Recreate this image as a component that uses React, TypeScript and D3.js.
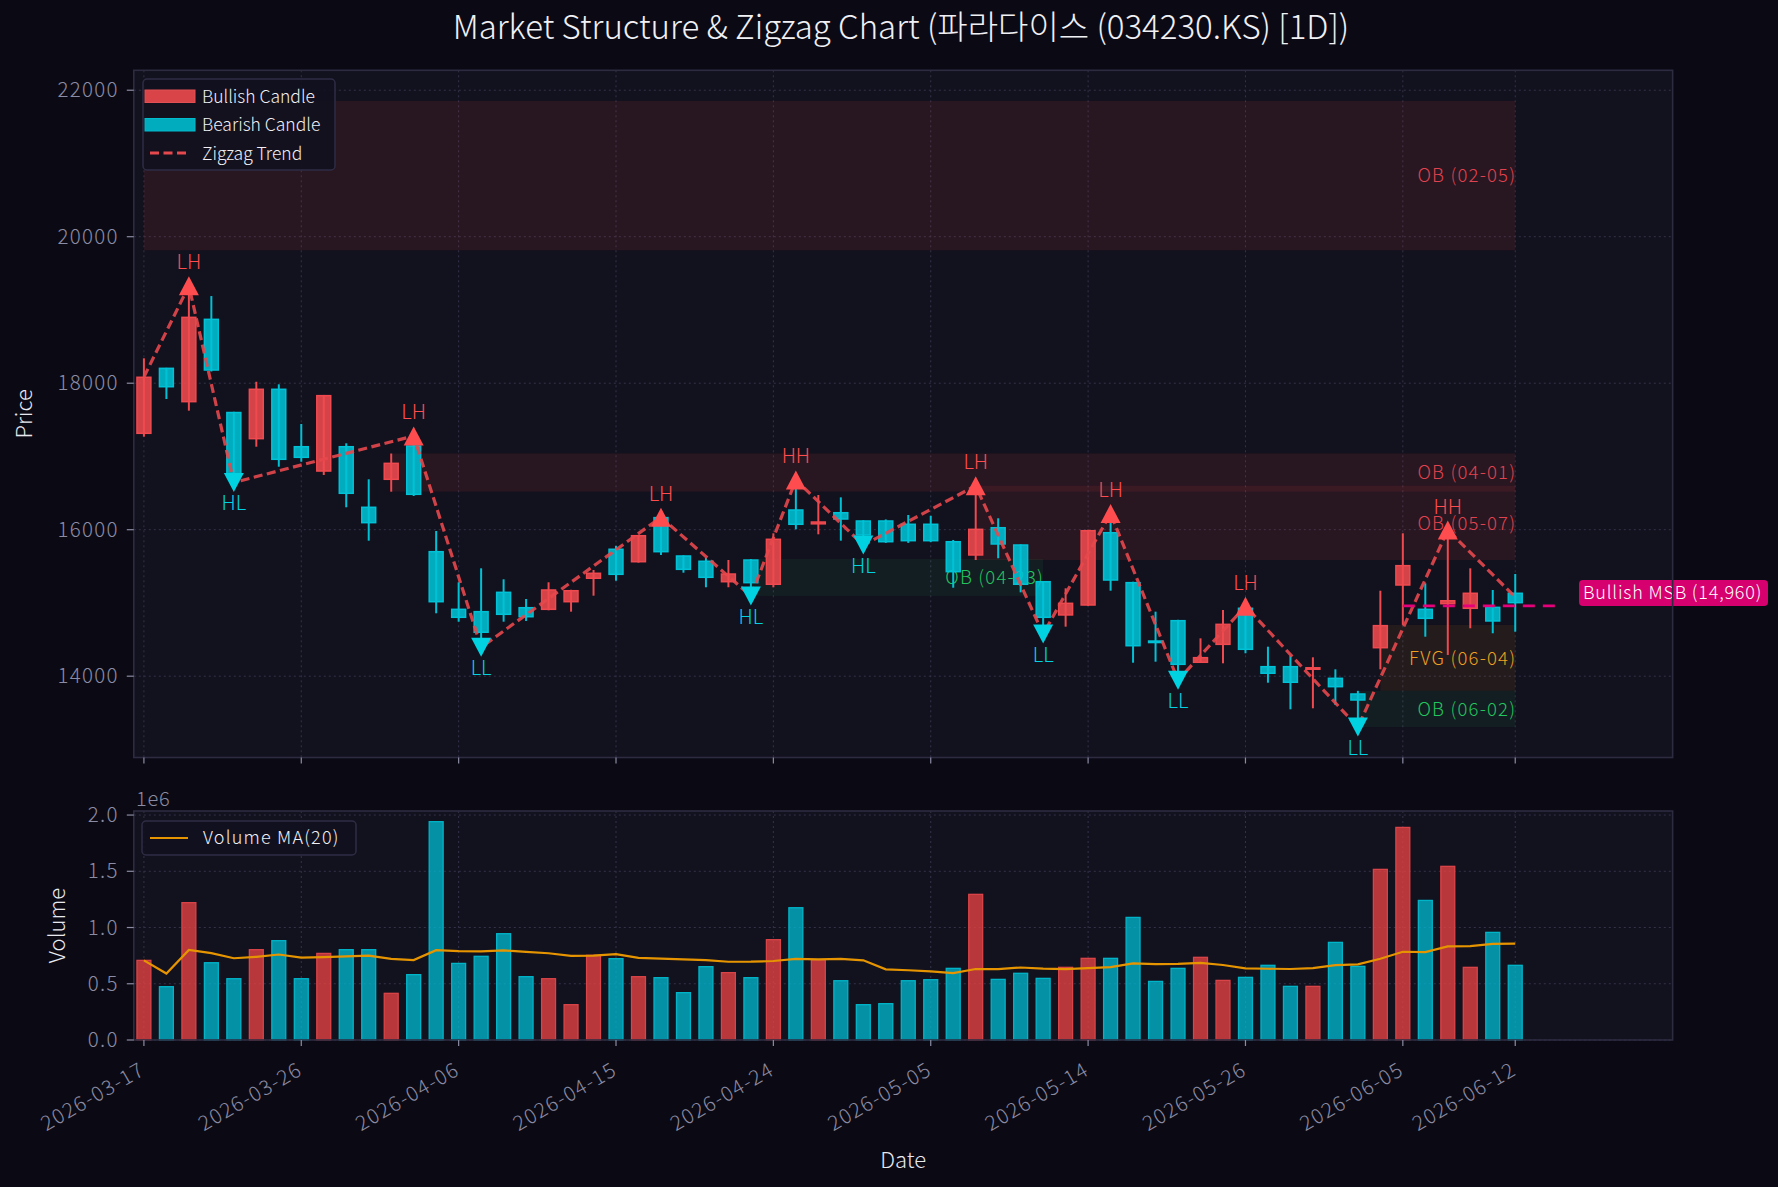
import React from 'react';
import * as d3 from 'd3';

const dates = ['2026-03-17','2026-03-18','2026-03-19','2026-03-20','2026-03-23','2026-03-24','2026-03-25','2026-03-26','2026-03-27','2026-03-30','2026-03-31','2026-04-01','2026-04-02','2026-04-03','2026-04-06','2026-04-07','2026-04-08','2026-04-09','2026-04-10','2026-04-13','2026-04-14','2026-04-15','2026-04-16','2026-04-17','2026-04-20','2026-04-21','2026-04-22','2026-04-23','2026-04-24','2026-04-27','2026-04-28','2026-04-29','2026-04-30','2026-05-01','2026-05-04','2026-05-05','2026-05-06','2026-05-07','2026-05-08','2026-05-11','2026-05-12','2026-05-13','2026-05-14','2026-05-15','2026-05-18','2026-05-19','2026-05-20','2026-05-21','2026-05-22','2026-05-26','2026-05-27','2026-05-28','2026-05-29','2026-06-01','2026-06-02','2026-06-04','2026-06-05','2026-06-08','2026-06-09','2026-06-10','2026-06-11','2026-06-12'];
const opens = [17316,18203,17748,18872,17600,17243,17917,17133,16801,17133,16306,16688,17143,15700,14913,14881,15145,14935,14913,15017,15337,15733,15563,16165,15641,15569,15290,15586,15255,16269,16080,16232,16119,16119,16074,16074,15836,15655,16027,15791,15290,14836,14972,15959,15277,14480,14758,14190,14435,14927,14130,14130,14100,13971,13757,14389,15245,14913,14990,14927,14940,15132];
const highs = [18340,18210,19330,19190,17610,18020,17985,17443,17840,17180,16688,17040,17280,15982,15282,15473,15323,15054,15282,15180,15450,15780,15930,16175,15650,15620,15586,15600,15951,16680,16474,16442,16130,16140,16201,16190,15860,16600,16156,15800,15300,15200,16000,16220,15290,14881,14770,14517,14904,14955,14403,14280,14258,14094,13800,15167,15951,15268,15995,15473,15177,15395];
const lows = [17270,17784,17625,18160,16645,17133,16860,16928,16747,16306,15850,16519,16460,14859,14744,14395,14744,14754,14900,14881,15099,15304,15550,15655,15413,15214,15214,15095,15214,16005,15937,15850,15790,15820,15820,15830,15208,15586,15610,15145,14575,14676,14960,15167,14184,14198,13945,14180,14176,14313,13911,13548,13562,13607,13305,14094,14700,14539,14290,14654,14586,14608];
const closes = [18081,17952,18899,18180,16760,17917,16961,16988,17830,16497,16096,16906,16483,15017,14804,14600,14845,14812,15177,15167,15405,15391,15918,15700,15459,15350,15395,15277,15869,16074,16105,16146,15928,15836,15850,15850,15427,16005,15805,15255,14804,14995,15986,15313,14416,14465,14162,14253,14708,14367,14040,13917,14115,13857,13675,14690,15509,14790,15030,15132,14754,15004];
const volumes = [708000,474000,1221000,687000,545000,803000,883000,545000,770000,803000,803000,415000,581000,1941000,681000,744000,945000,563000,545000,314000,753000,723000,563000,554000,421000,652000,599000,554000,892000,1176000,714000,527000,314000,323000,527000,536000,637000,1295000,539000,593000,548000,646000,726000,726000,1090000,521000,637000,735000,530000,557000,664000,477000,477000,868000,655000,1517000,1890000,1241000,1544000,646000,957000,664000];

const zigIdx = [0,2,4,12,15,23,27,29,32,37,40,43,46,49,54,58,61];
const zigPrice = [18085,19330,16645,17280,14395,16170,15095,16680,15790,16600,14575,16220,13945,14955,13305,15995,15080];
const zigLabels = ['','LH','HL','LH','LL','LH','HL','HH','HL','LH','LL','LH','LL','LH','LL','HH',''];

const zoneNames = ['OB (02-05)','OB (04-01)','OB (05-07)','OB (04-23)','FVG (06-04)','OB (06-02)'];
const zoneKinds = ['bear','bear','bear','bull','fvg','bull'];
const zoneStart = [0,11,37,27,55,54];
const zoneEnd = [61,61,61,40,61,61];
const zoneTop = [21855,17040,16600,15600,14700,13800];
const zoneBottom = [19815,16519,15586,15095,13800,13305];

const msbPrice = 14960;
const msbStart = 56;
const msbEnd = 62.8;
const msbLabel = 'Bullish MSB (14,960)';

const xTickIdx = [0,7,14,21,28,35,42,49,56,61];
const priceTicks = [14000,16000,18000,20000,22000];
const volTicks = [0,500000,1000000,1500000,2000000];

const FONT = "'Noto Sans CJK KR','Noto Sans',sans-serif";
const BG = '#0b0a14';
const AX = '#12111e';
const SPINE = '#2c2b40';
const GRID = '#34334a';
const TICKC = '#8b8ba3';
const RED = '#ef4a4f';
const CYAN = '#00c2d6';

export default function App() {
  const W = 1778, H = 1187;
  const L = 133.8, R = 1672.6;
  const mT = 70.3, mB = 757.5;
  const vT = 811, vB = 1040;

  const x = d3.scaleLinear().domain([-0.45, 68]).range([L, R]);
  const y = d3.scaleLinear().domain([12890, 22272]).range([mB, mT]);
  const yv = d3.scaleLinear().domain([0, 2036000]).range([vB, vT]);
  const half = x(0.31) - x(0);

  const volMA = volumes.map((_, i) => d3.mean(volumes.slice(Math.max(0, i - 19), i + 1)) as number);
  const maLine = d3.line<number>().x((_, i) => x(i)).y(d => yv(d));
  const zigLine = d3.line<number>().x((_, i) => x(zigIdx[i])).y(d => y(d));

  const zoneFill: Record<string, string> = { bear: '#ef4444', bull: '#22c55e', fvg: '#f59e0b' };
  const zoneText: Record<string, string> = { bear: '#e0434f', bull: '#22c55e', fvg: '#f0a020' };
  const zoneOp: Record<string, number> = { bear: 0.1, bull: 0.08, fvg: 0.08 };

  const tri = (up: boolean) => up ? 'M0,-9.5L10,9.5L-10,9.5Z' : 'M0,9.5L10,-9.5L-10,-9.5Z';

  return (
    <svg width={W} height={H} style={{ position: 'absolute', left: 0, top: 0, background: BG }} fontFamily={FONT} fontWeight={300}>
      <rect x={0} y={0} width={W} height={H} fill={BG} />
      <text x={901} y={39} textAnchor="middle" fill="#f0f0f5" fontSize={33}>Market Structure &amp; Zigzag Chart (파라다이스 (034230.KS) [1D])</text>

      {/* main axes */}
      <rect x={L} y={mT} width={R - L} height={mB - mT} fill={AX} />
      {priceTicks.map(p => (
        <line key={'gp' + p} x1={L} x2={R} y1={y(p)} y2={y(p)} stroke={GRID} strokeDasharray="2,3" />
      ))}
      {xTickIdx.map(i => (
        <line key={'gx' + i} x1={x(i)} x2={x(i)} y1={mT} y2={mB} stroke={GRID} strokeDasharray="2,3" />
      ))}

      {zoneNames.map((n, k) => (
        <g key={'z' + k}>
          <rect x={x(zoneStart[k])} y={y(zoneTop[k])} width={x(zoneEnd[k]) - x(zoneStart[k])}
            height={y(zoneBottom[k]) - y(zoneTop[k])} fill={zoneFill[zoneKinds[k]]} fillOpacity={zoneOp[zoneKinds[k]]} />
          <text x={x(zoneEnd[k]) + 1} y={(y(zoneTop[k]) + y(zoneBottom[k])) / 2} dy="0.36em" textAnchor="end"
            fill={zoneText[zoneKinds[k]]} fontSize={18.5} letterSpacing={1.2}>{n}</text>
        </g>
      ))}

      {dates.map((d, i) => {
        const up = closes[i] >= opens[i];
        const c = up ? RED : CYAN;
        const top = y(Math.max(opens[i], closes[i]));
        const bot = y(Math.min(opens[i], closes[i]));
        return (
          <g key={'c' + i}>
            <line x1={x(i)} x2={x(i)} y1={y(highs[i])} y2={y(lows[i])} stroke={c} strokeWidth={2} />
            <rect x={x(i) - half} y={top} width={half * 2} height={Math.max(bot - top, 1.5)}
              fill={c} fillOpacity={0.88} stroke={c} strokeWidth={1.5} />
          </g>
        );
      })}

      <path d={zigLine(zigPrice) || ''} fill="none" stroke="#e5484d" strokeOpacity={0.9} strokeWidth={3.2} strokeDasharray="9,4.5" />

      {zigIdx.map((ix, k) => {
        const lab = zigLabels[k];
        if (!lab) return null;
        const isHigh = lab[1] === 'H';
        const c = isHigh ? '#ff4d4f' : '#00d2e2';
        const cy = y(zigPrice[k]);
        return (
          <g key={'m' + k}>
            <path d={tri(isHigh)} transform={`translate(${x(ix)},${cy})`} fill={c} />
            <text x={x(ix)} y={isHigh ? cy - 16.5 : cy + 28} textAnchor="middle" fill={c} fontSize={20}>{lab}</text>
          </g>
        );
      })}

      <line x1={x(msbStart)} x2={x(msbEnd)} y1={y(msbPrice)} y2={y(msbPrice)} stroke="#e6007a" strokeWidth={2.6} strokeDasharray="12,8" />
      <rect x={1579} y={y(msbPrice) - 26} width={189} height={26} rx={4} fill="#d6006e" />
      <text x={1583} y={y(msbPrice) - 7} fill="#ffffff" fontSize={18} letterSpacing={0.8}>{msbLabel}</text>

      <rect x={L} y={mT} width={R - L} height={mB - mT} fill="none" stroke={SPINE} strokeWidth={1.6} />
      {priceTicks.map(p => (
        <g key={'tp' + p}>
          <line x1={L - 7} x2={L} y1={y(p)} y2={y(p)} stroke={TICKC} strokeWidth={1.2} />
          <text x={L - 15} y={y(p)} dy="0.35em" textAnchor="end" fill={TICKC} fontSize={20.5} letterSpacing={1.3}>{p}</text>
        </g>
      ))}
      {xTickIdx.map(i => (
        <line key={'tx' + i} x1={x(i)} x2={x(i)} y1={mB} y2={mB + 6} stroke={TICKC} strokeWidth={1.2} />
      ))}
      <text transform={`translate(32,${(mT + mB) / 2}) rotate(-90)`} textAnchor="middle" fill="#e8e8f0" fontSize={22}>Price</text>

      {/* legend */}
      <rect x={143} y={79} width={192} height={91} rx={4} fill={AX} fillOpacity={0.9} stroke="#2e2d45" strokeWidth={1.5} />
      <rect x={145} y={90} width={50} height={12.5} fill="#d94448" stroke="#e25055" />
      <text x={202} y={96.3} dy="0.36em" fill="#f0f0f5" fontSize={17.5}>Bullish Candle</text>
      <rect x={145} y={118.5} width={50} height={12.5} fill="#00acbd" stroke="#00bccd" />
      <text x={202} y={125} dy="0.36em" fill="#f0f0f5" fontSize={17.5}>Bearish Candle</text>
      <line x1={150} x2={190} y1={153} y2={153} stroke="#e5484d" strokeWidth={3} strokeDasharray="9,4.5" />
      <text x={202} y={153.3} dy="0.36em" fill="#f0f0f5" fontSize={17.5}>Zigzag Trend</text>

      {/* volume axes */}
      <rect x={L} y={vT} width={R - L} height={vB - vT} fill={AX} />
      {volTicks.map(v => (
        <line key={'gv' + v} x1={L} x2={R} y1={yv(v)} y2={yv(v)} stroke={GRID} strokeDasharray="2,3" />
      ))}
      {xTickIdx.map(i => (
        <line key={'gvx' + i} x1={x(i)} x2={x(i)} y1={vT} y2={vB} stroke={GRID} strokeDasharray="2,3" />
      ))}
      {volumes.map((v, i) => {
        const up = closes[i] >= opens[i];
        return (
          <rect key={'v' + i} x={x(i) - half} y={yv(v)} width={half * 2} height={yv(0) - yv(v)}
            fill={up ? '#ef4444' : '#00bcd4'} fillOpacity={0.75} stroke={up ? '#d94448' : '#00b4c8'} strokeWidth={1.3} />
        );
      })}
      <path d={maLine(volMA) || ''} fill="none" stroke="#e69500" strokeWidth={2.2} />
      <rect x={L} y={vT} width={R - L} height={vB - vT} fill="none" stroke={SPINE} strokeWidth={1.6} />
      {volTicks.map(v => (
        <g key={'tv' + v}>
          <line x1={L - 7} x2={L} y1={yv(v)} y2={yv(v)} stroke={TICKC} strokeWidth={1.2} />
          <text x={L - 15} y={yv(v)} dy="0.35em" textAnchor="end" fill={TICKC} fontSize={20.5} letterSpacing={1.3}>{(v / 1e6).toFixed(1)}</text>
        </g>
      ))}
      <text x={136} y={806} fill={TICKC} fontSize={20} letterSpacing={0.8}>1e6</text>
      {xTickIdx.map(i => (
        <g key={'tvx' + i}>
          <line x1={x(i)} x2={x(i)} y1={vB} y2={vB + 6} stroke={TICKC} strokeWidth={1.2} />
          <text transform={`translate(${x(i) - 5},${vB + 21}) rotate(-30)`} textAnchor="end" dy="0.72em" fill={TICKC} fontSize={20.5} letterSpacing={1.4}>{dates[i]}</text>
        </g>
      ))}
      <text transform={`translate(65,${(vT + vB) / 2}) rotate(-90)`} textAnchor="middle" fill="#e8e8f0" fontSize={22}>Volume</text>
      <text x={(L + R) / 2} y={1168} textAnchor="middle" fill="#e8e8f0" fontSize={22}>Date</text>

      <rect x={142} y={821} width={214} height={34} rx={4} fill={AX} fillOpacity={0.9} stroke="#2e2d45" strokeWidth={1.5} />
      <line x1={150} x2={188} y1={838} y2={838} stroke="#e69500" strokeWidth={2.2} />
      <text x={203} y={838} dy="0.36em" fill="#f0f0f5" fontSize={18} letterSpacing={1.2}>Volume MA(20)</text>
    </svg>
  );
}
